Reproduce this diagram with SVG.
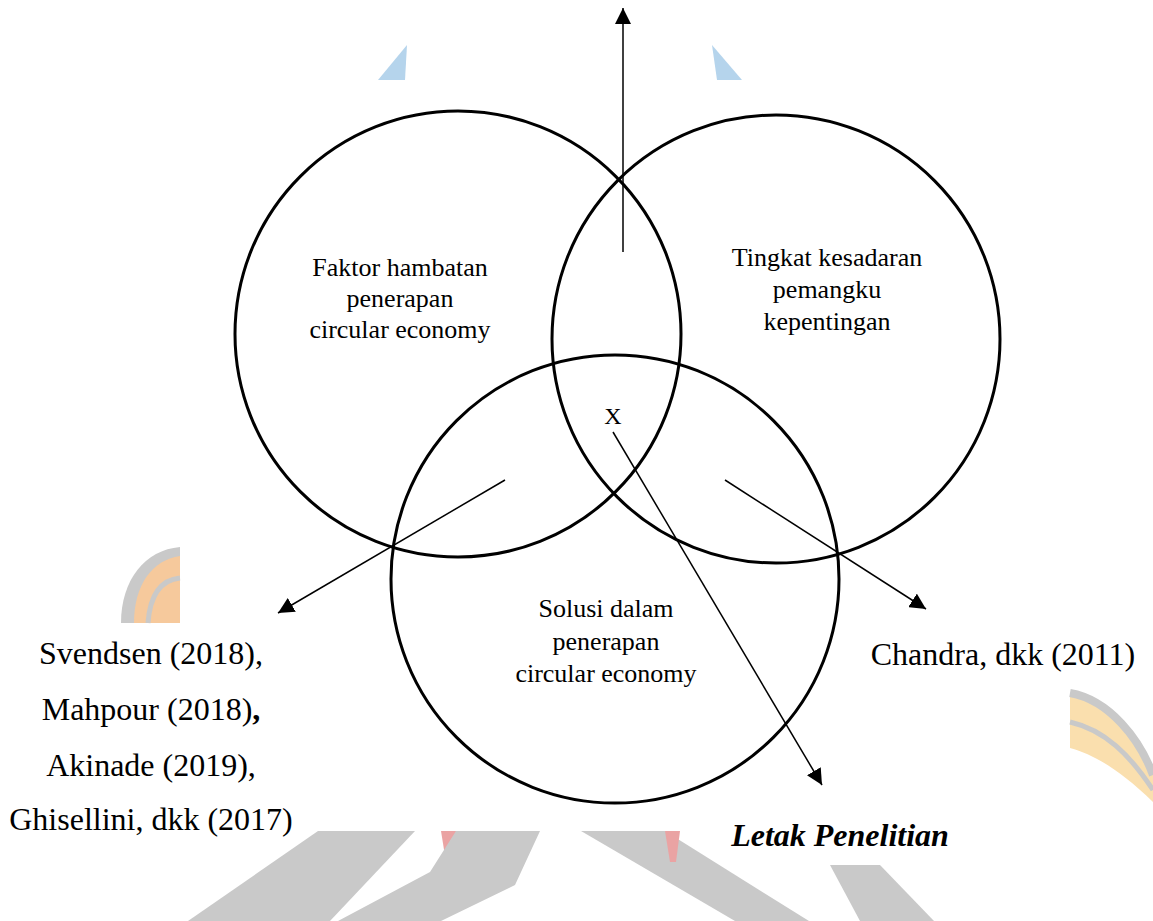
<svg xmlns="http://www.w3.org/2000/svg" width="1153" height="921" viewBox="0 0 1153 921">
<style>
.circ{fill:none;stroke:#000;stroke-width:3}
.con{fill:none;stroke:#000;stroke-width:1.5}
.t1{font-family:"Liberation Serif","Times New Roman",serif;font-size:26px;fill:#000;text-anchor:middle}
.t2{font-family:"Liberation Serif","Times New Roman",serif;font-size:32px;fill:#000;text-anchor:middle}
.t3{font-family:"Liberation Serif","Times New Roman",serif;font-size:32px;font-weight:bold;font-style:italic;fill:#000;text-anchor:middle}
.wg{fill:#c9c9c9}
.wr{fill:#eaa3a3}
</style>
<defs>
<marker id="ah" markerUnits="userSpaceOnUse" markerWidth="16" markerHeight="16" refX="16" refY="8" orient="auto" viewBox="0 0 16 16">
<path d="M0,0 L16,8 L0,16 Z" fill="#000"/>
</marker>
</defs>
<rect width="1153" height="921" fill="#fff"/>
<g id="watermark">
<path d="M407,45 L405,80 L378,80 Z" fill="#b5d4ec"/>
<path d="M712,45 L742,80 L717,80 Z" fill="#b5d4ec"/>
<path d="M180,547 C145,550 121,580 121,623 L180,623 Z" class="wg"/>
<path d="M180,556 C152,560 134,585 134,623 L180,623 Z" fill="#f6c99c"/>
<path d="M180,578 C160,580 150,595 148,623" fill="none" stroke="#c9c9c9" stroke-width="5"/>
<path d="M1070,693 C1110,700 1140,740 1153,775 L1153,802 C1120,770 1095,755 1070,748 Z" fill="#fadfae"/>
<path d="M1070,693 C1110,700 1140,740 1153,775" fill="none" stroke="#c9c9c9" stroke-width="8"/>
<path d="M1070,722 C1105,730 1130,755 1153,790" fill="none" stroke="#c9c9c9" stroke-width="5"/>
<path d="M318,831 L415,831 L330,921 L188,921 Z" class="wg"/>
<path d="M441,831 L456,831 L452,862 L446,862 Z" class="wr"/>
<path d="M456,831 L540,831 L515,885 L441,921 L338,921 L430,872 Z" class="wg"/>
<path d="M581,831 L665,831 L809,921 L735,921 Z" class="wg"/>
<path d="M665,831 L680,831 L676,862 L670,862 Z" class="wr"/>
<path d="M830,865 L880,865 L934,921 L860,921 Z" class="wg"/>
</g>
<g id="circle-faktor">
<circle class="circ" cx="458" cy="334" r="223"/>
<text class="t1" x="400" y="276">Faktor hambatan</text>
<text class="t1" x="400" y="307">penerapan</text>
<text class="t1" x="400" y="338">circular economy</text>
</g>
<g id="circle-tingkat">
<circle class="circ" cx="776" cy="339" r="224"/>
<text class="t1" x="827" y="266">Tingkat kesadaran</text>
<text class="t1" x="827" y="298">pemangku</text>
<text class="t1" x="827" y="330">kepentingan</text>
</g>
<g id="circle-solusi">
<circle class="circ" cx="615" cy="579" r="224"/>
<text class="t1" x="606" y="617">Solusi dalam</text>
<text class="t1" x="606" y="650">penerapan</text>
<text class="t1" x="606" y="682">circular economy</text>
</g>
<g id="label-x">
<text x="613" y="424" style="font-family:'Liberation Serif','Times New Roman',serif;font-size:24px;text-anchor:middle">X</text>
</g>
<g id="refs-left">
<text class="t2" x="151" y="664">Svendsen (2018),</text>
<text class="t2" x="151" y="720">Mahpour (2018)<tspan font-weight="bold">,</tspan></text>
<text class="t2" x="151" y="776">Akinade (2019),</text>
<text class="t2" x="151" y="830">Ghisellini, dkk (2017)</text>
</g>
<g id="refs-right">
<text class="t2" x="1003" y="665">Chandra, dkk (2011)</text>
</g>
<g id="label-letak">
<text class="t3" x="840" y="846">Letak Penelitian</text>
</g>
<g id="connectors">
<line class="con" x1="623" y1="252" x2="623" y2="8" marker-end="url(#ah)"/>
<line class="con" x1="505" y1="480" x2="278" y2="613" marker-end="url(#ah)"/>
<line class="con" x1="725" y1="480" x2="926" y2="609" marker-end="url(#ah)"/>
<line class="con" x1="613" y1="432" x2="822" y2="785" marker-end="url(#ah)"/>
</g>
</svg>
